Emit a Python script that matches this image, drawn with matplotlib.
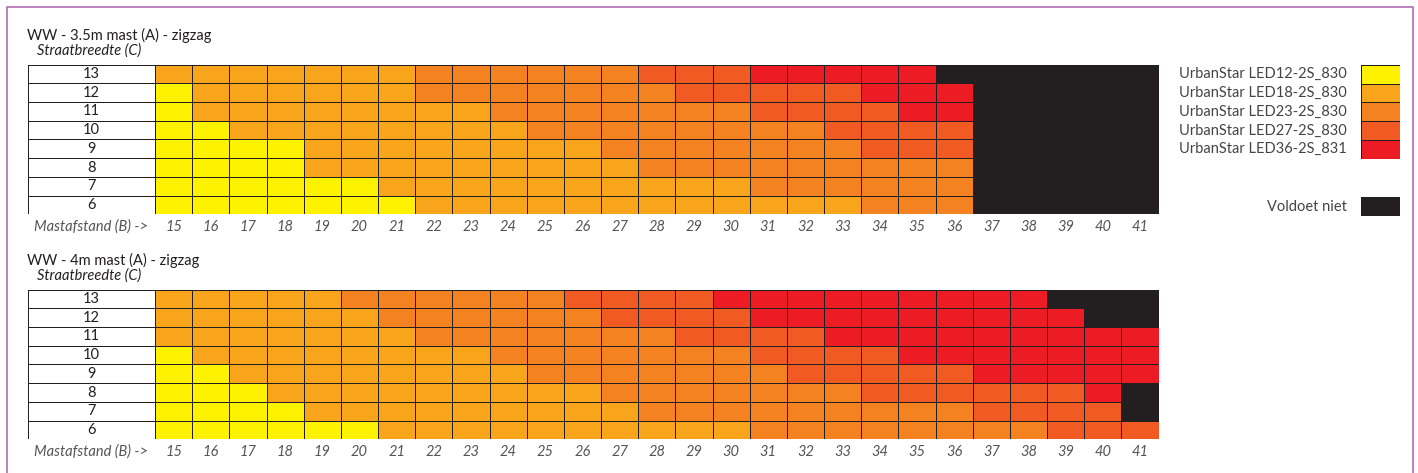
import numpy as np
import matplotlib
matplotlib.use('Agg')
import matplotlib.pyplot as plt
from matplotlib.colors import ListedColormap, BoundaryNorm
from matplotlib.lines import Line2D

plt.rcParams['font.family'] = ['Lato', 'DejaVu Sans']

# kolommen = mastafstand (B), rijen = straatbreedte (C)
mastafstand = list(range(15, 42))
straatbreedte = [13, 12, 11, 10, 9, 8, 7, 6]

# 0 = LED12, 1 = LED18, 2 = LED23, 3 = LED27, 4 = LED36, 5 = voldoet niet
armaturen = ['UrbanStar LED12-2S_830', 'UrbanStar LED18-2S_830',
             'UrbanStar LED23-2S_830', 'UrbanStar LED27-2S_830',
             'UrbanStar LED36-2S_831']
kleuren = ['#FFF200', '#F8A51C', '#F48221', '#F15A22', '#ED1C24', '#231F20']

# WW - 3.5m mast, 13 -> 6
grid_35 = [
    [1, 1, 1, 1, 1, 1, 1, 2, 2, 2, 2, 2, 2, 3, 3, 3, 4, 4, 4, 4, 4, 5, 5, 5, 5, 5, 5],
    [0, 1, 1, 1, 1, 1, 1, 2, 2, 2, 2, 2, 2, 2, 3, 3, 3, 3, 3, 4, 4, 4, 5, 5, 5, 5, 5],
    [0, 1, 1, 1, 1, 1, 1, 1, 1, 2, 2, 2, 2, 2, 2, 2, 3, 3, 3, 3, 4, 4, 5, 5, 5, 5, 5],
    [0, 0, 1, 1, 1, 1, 1, 1, 1, 1, 2, 2, 2, 2, 2, 2, 2, 2, 3, 3, 3, 3, 5, 5, 5, 5, 5],
    [0, 0, 0, 0, 1, 1, 1, 1, 1, 1, 1, 1, 2, 2, 2, 2, 2, 2, 2, 3, 3, 3, 5, 5, 5, 5, 5],
    [0, 0, 0, 0, 1, 1, 1, 1, 1, 1, 1, 1, 1, 2, 2, 2, 2, 2, 2, 2, 2, 2, 5, 5, 5, 5, 5],
    [0, 0, 0, 0, 0, 0, 1, 1, 1, 1, 1, 1, 1, 1, 1, 1, 2, 2, 2, 2, 2, 2, 5, 5, 5, 5, 5],
    [0, 0, 0, 0, 0, 0, 0, 1, 1, 1, 1, 1, 1, 1, 1, 1, 1, 1, 1, 2, 2, 2, 5, 5, 5, 5, 5],
]

# WW - 4m mast, 13 -> 6
grid_4 = [
    [1, 1, 1, 1, 1, 2, 2, 2, 2, 2, 2, 3, 3, 3, 3, 4, 4, 4, 4, 4, 4, 4, 4, 4, 5, 5, 5],
    [1, 1, 1, 1, 1, 1, 2, 2, 2, 2, 2, 2, 3, 3, 3, 3, 4, 4, 4, 4, 4, 4, 4, 4, 4, 5, 5],
    [1, 1, 1, 1, 1, 1, 1, 2, 2, 2, 2, 2, 2, 2, 3, 3, 3, 3, 4, 4, 4, 4, 4, 4, 4, 4, 4],
    [0, 1, 1, 1, 1, 1, 1, 1, 1, 2, 2, 2, 2, 2, 2, 2, 3, 3, 3, 3, 4, 4, 4, 4, 4, 4, 4],
    [0, 0, 1, 1, 1, 1, 1, 1, 1, 1, 2, 2, 2, 2, 2, 2, 2, 3, 3, 3, 3, 3, 4, 4, 4, 4, 4],
    [0, 0, 0, 1, 1, 1, 1, 1, 1, 1, 1, 1, 2, 2, 2, 2, 2, 2, 2, 3, 3, 3, 3, 3, 3, 4, 5],
    [0, 0, 0, 0, 1, 1, 1, 1, 1, 1, 1, 1, 1, 2, 2, 2, 2, 2, 2, 2, 2, 2, 3, 3, 3, 3, 5],
    [0, 0, 0, 0, 0, 0, 1, 1, 1, 1, 1, 1, 1, 1, 1, 1, 2, 2, 2, 2, 2, 2, 2, 2, 3, 3, 3],
]

panelen = [
    ('WW - 3.5m mast (A) - zigzag', grid_35, 64.6),
    ('WW - 4m mast (A) - zigzag', grid_4, 289.6),
]

W, H = 1418, 473
fig = plt.figure(figsize=(W / 100, H / 100), dpi=100)

cmap = ListedColormap(kleuren)
norm = BoundaryNorm(np.arange(-0.5, 6.5, 1), cmap.N)
tekst = '#231F20'
lijn = '#231F20'
lw = 0.6


def px_axes(x0, y0, x1, y1):
    # pixelbox (boven links -> onder rechts) naar figuur-fractie
    return fig.add_axes([x0 / W, 1 - y1 / H, (x1 - x0) / W, (y1 - y0) / H])


def fig_text(x, y, s, **kw):
    fig.text(x / W, 1 - y / H, s, **kw)


x_lab, x_data, x_end = 28, 155, 1158.6
rij_h = 18.72

for titel, grid, top in panelen:
    bottom = top + rij_h * len(straatbreedte)

    fig_text(27, top - 29, titel, fontsize=10.5, color=tekst, va='center')
    fig_text(37, top - 14, 'Straatbreedte (C)', fontsize=10.5, color=tekst,
             style='italic', va='center')

    # kolom met straatbreedtes
    axl = px_axes(x_lab, top, x_data, bottom)
    axl.pcolormesh(np.arange(2) - 0.5, np.arange(len(straatbreedte) + 1) - 0.5,
                   np.zeros((len(straatbreedte), 1)), cmap=ListedColormap(['white']),
                   edgecolors=lijn, linewidth=lw)
    axl.set_ylim(len(straatbreedte) - 0.5, -0.5)
    axl.set_xlim(-0.5, 0.5)
    for i, c in enumerate(straatbreedte):
        axl.text(0, i, str(c), ha='center', va='center', fontsize=10.5, color=tekst)
    axl.set_axis_off()

    # de kleurvakken
    ax = px_axes(x_data, top, x_end, bottom)
    ax.pcolormesh(np.arange(mastafstand[0] - 0.5, mastafstand[-1] + 1),
                  np.arange(len(straatbreedte) + 1) - 0.5,
                  np.array(grid), cmap=cmap, norm=norm,
                  edgecolors=lijn, linewidth=lw)
    ax.set_ylim(len(straatbreedte) - 0.5, -0.5)
    ax.set_xlim(mastafstand[0] - 0.5, mastafstand[-1] + 0.5)
    ax.set_yticks([])
    ax.set_xticks(mastafstand)
    ax.set_xticklabels([str(m) for m in mastafstand], style='italic',
                       fontsize=10.5, color='#555555')
    ax.tick_params(axis='x', length=0, pad=4)
    for s in ax.spines.values():
        s.set_visible(False)

    fig_text(148, bottom + 12, 'Mastafstand (B) ->', fontsize=10.5,
             color='#555555', style='italic', ha='right', va='center')

# legenda
axg = px_axes(1361, 65, 1400, 158.6)
axg.pcolormesh(np.arange(2) - 0.5, np.arange(len(armaturen) + 1) - 0.5,
               np.arange(len(armaturen)).reshape(-1, 1), cmap=cmap, norm=norm,
               edgecolors=lijn, linewidth=lw)
axg.set_ylim(len(armaturen) - 0.5, -0.5)
axg.set_xlim(-0.5, 0.5)
axg.set_axis_off()
for i, naam in enumerate(armaturen):
    axg.text(-0.5 - 14 / 39, i, naam, ha='right', va='center', fontsize=10.5,
             color='#444444')

axn = px_axes(1361, 197, 1400, 216)
axn.pcolormesh([-0.5, 0.5], [-0.5, 0.5], [[5]], cmap=cmap, norm=norm,
               edgecolors=lijn, linewidth=lw)
axn.set_axis_off()
axn.text(-0.5 - 14 / 39, 0, 'Voldoet niet', ha='right', va='center',
         fontsize=10.5, color='#444444')

# paarse kader
rand = '#B06CB6'
fig.add_artist(Line2D([7 / W, 7 / W, 1413 / W, 1413 / W],
                      [0, 1 - 7 / H, 1 - 7 / H, 0],
                      color=rand, linewidth=1.2))

fig.savefig('out.png', dpi=100)
